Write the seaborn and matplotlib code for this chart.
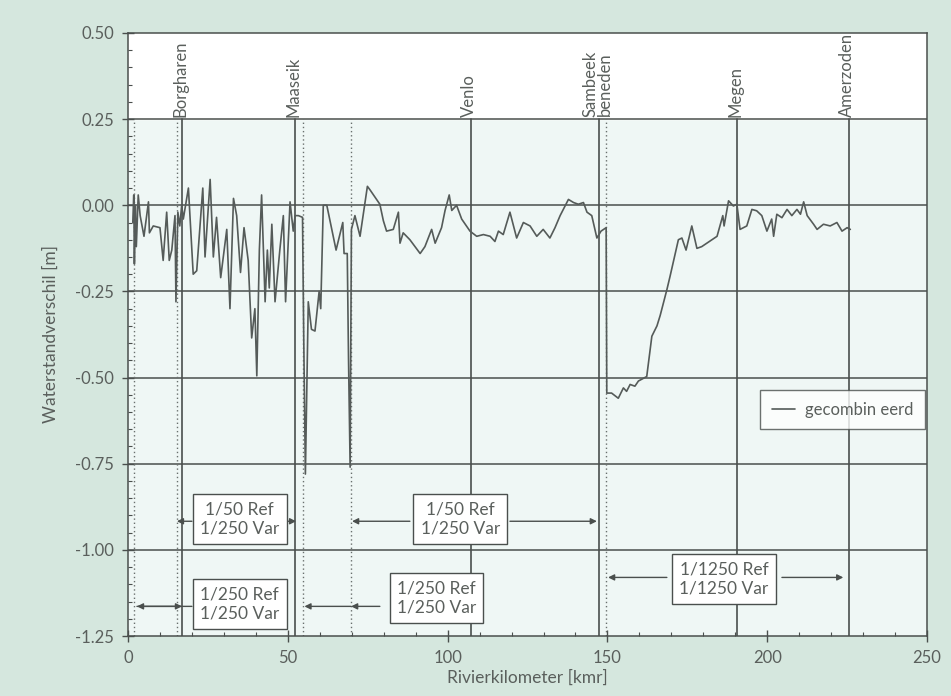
import numpy as np
import pandas as pd
import matplotlib
matplotlib.use("Agg")
import matplotlib.pyplot as plt
import seaborn as sns

# ---- data ----
km = [1.5, 1.8, 2.0, 2.3, 2.6, 3.2, 3.8, 5.0, 6.4, 6.7, 7.9, 10.0, 11.0, 12.1, 12.9, 13.7, 14.7, 15.0,
      15.6, 16.2, 16.8, 17.3, 18.9, 20.4, 21.5, 23.4, 24.1, 25.7, 26.7, 27.7, 29.0, 30.9, 31.9, 33.0,
      34.0, 35.2, 36.3, 37.6, 38.7, 39.7, 40.3, 41.1, 41.8, 42.9, 43.6, 44.2, 45.0, 46.0, 47.5, 48.6,
      49.3, 50.7, 51.7, 52.3, 53.3, 54.6, 55.0, 55.5, 56.0, 56.4, 57.4, 58.5, 59.8, 60.3, 61.1, 62.2,
      65.1, 67.2, 67.6, 68.6, 69.0, 69.5, 69.9, 71.0, 72.6, 74.9, 75.7, 78.8, 79.9, 80.9, 83.0, 84.6,
      85.1, 86.1, 88.2, 91.4, 92.9, 95.0, 96.1, 98.1, 99.2, 100.5, 101.3, 102.8, 104.4, 107.0, 109.1,
      111.2, 113.3, 114.8, 115.9, 117.4, 119.5, 121.6, 123.7, 125.8, 127.9, 129.9, 132.0, 133.6, 135.2,
      137.8, 139.4, 140.9, 142.5, 143.6, 145.1, 146.7, 148.0, 149.6, 149.8, 151.3, 153.4, 155.0, 156.0,
      157.1, 158.6, 159.7, 162.3, 163.9, 165.5, 166.5, 168.6, 169.6, 171.2, 172.2, 173.3, 174.6, 176.4,
      178.0, 179.5, 181.1, 184.3, 186.1, 186.5, 187.9, 189.4, 190.5, 191.5, 193.6, 195.2, 196.7, 198.3,
      199.9, 201.4, 202.0, 203.0, 204.6, 206.2, 207.7, 209.3, 210.4, 211.4, 212.5, 214.5, 215.6, 217.6,
      219.7, 221.8, 223.4, 225.0, 226.0]
verschil = [-0.05, 0.03, -0.17, 0.0, -0.12, 0.03, -0.03, -0.09, 0.01, -0.08, -0.06, -0.065, -0.16, -0.02,
            -0.16, -0.13, -0.03, -0.28, -0.02, -0.06, 0.0, -0.04, 0.05, -0.20, -0.19, 0.05, -0.15, 0.075,
            -0.15, -0.035, -0.21, -0.07, -0.30, 0.02, -0.03, -0.195, -0.065, -0.16, -0.385, -0.30, -0.495,
            -0.13, 0.03, -0.28, -0.13, -0.24, -0.055, -0.28, -0.13, -0.03, -0.28, 0.01, -0.075, -0.03,
            -0.03, -0.035, -0.40, -0.78, -0.50, -0.28, -0.36, -0.365, -0.25, -0.30, 0.0, 0.0,
            -0.13, -0.05, -0.14, -0.14, -0.45, -0.76, -0.07, -0.03, -0.09, 0.055, 0.045, 0.003, -0.045,
            -0.075, -0.07, -0.02, -0.11, -0.08, -0.10, -0.14, -0.12, -0.07, -0.11, -0.065, -0.015, 0.03,
            -0.015, 0.0, -0.04, -0.075, -0.09, -0.085, -0.09, -0.105, -0.075, -0.085, -0.02, -0.095, -0.05,
            -0.06, -0.09, -0.07, -0.095, -0.065, -0.03, 0.017, 0.008, 0.003, 0.008, -0.02, -0.03, -0.095,
            -0.075, -0.065, -0.545, -0.545, -0.56, -0.53, -0.54, -0.52, -0.525, -0.51, -0.497, -0.38,
            -0.35, -0.32, -0.245, -0.206, -0.14, -0.10, -0.095, -0.13, -0.06, -0.125, -0.12, -0.11, -0.09,
            -0.03, -0.06, 0.013, -0.002, 0.003, -0.07, -0.06, -0.012, -0.016, -0.03, -0.075, -0.04, -0.09,
            -0.026, -0.036, -0.012, -0.03, -0.012, -0.026, 0.01, -0.03, -0.055, -0.07, -0.055, -0.06,
            -0.05, -0.075, -0.065, -0.07]

stations = ["Borgharen", "Maaseik", "Venlo", "Sambeek\nbeneden", "Megen", "Amerzoden"]
station_km = [16.9, 52.3, 107.3, 147.4, 190.5, 225.6]
boundary_km = [2.0, 15.3, 54.8, 69.8, 149.6]

box_texts = ["1/50 Ref\n1/250 Var", "1/50 Ref\n1/250 Var", "1/250 Ref\n1/250 Var",
             "1/250 Ref\n1/250 Var", "1/1250 Ref\n1/1250 Var"]
box_x = [35.0, 104.0, 35.0, 96.5, 186.5]
box_y = [-0.91, -0.91, -1.158, -1.14, -1.085]

legend_label = "gecombin eerd"

# ---- styling ----
sns.set_theme(style="white")
FONT = ["Lato", "DejaVu Sans"]
plt.rcParams["font.family"] = FONT
TXT = "#5a5f5c"
LINE = "#4a4f4d"
FS = 12

fig = plt.figure(figsize=(9.51, 6.96), dpi=100, facecolor="#d5e7de")
ax = fig.add_axes([0.1346, 0.0862, 0.8402, 0.8664])
ax.set_facecolor("#eff7f5")

df = pd.DataFrame({"Rivierkilometer [kmr]": km, "Waterstandverschil [m]": verschil})
sns.lineplot(data=df, x="Rivierkilometer [kmr]", y="Waterstandverschil [m]", ax=ax,
             color="#555b59", linewidth=1.2, label=legend_label, zorder=5)

ax.set_xlim(0, 250)
ax.set_ylim(-1.25, 0.5)
ax.axhspan(0.25, 0.5, color="white", zorder=0)

# horizontal grid lines
for yv in [0.25, 0.0, -0.25, -0.5, -0.75, -1.0]:
    ax.axhline(yv, color=LINE, lw=1.1, zorder=2)

# station lines and labels
for name, xv in zip(stations, station_km):
    ax.plot([xv, xv], [-1.25, 0.25], color=LINE, lw=1.2, zorder=2)
    ax.text(xv - 0.5, 0.256, name, rotation=90, ha="center", va="bottom",
            fontsize=FS, color=TXT, linespacing=0.9)

for xv in boundary_km:
    ax.plot([xv, xv], [-1.25, 0.25], color="#6a706e", lw=1.0, ls=(0, (1, 2)), zorder=2)

# annotation arrows
akw = dict(arrowstyle="-|>", color=LINE, lw=1.0, mutation_scale=9, shrinkA=0, shrinkB=0)
arrows = [((20.0, -0.917), (15.3, -0.917)), ((49.7, -0.917), (52.6, -0.917)),
          ((88.2, -0.917), (70.1, -0.917)), ((119.5, -0.917), (146.7, -0.917)),
          ((20.0, -1.164), (2.8, -1.164)), ((2.8, -1.164), (16.9, -1.164)),
          ((78.8, -1.164), (69.8, -1.164)), ((69.8, -1.164), (55.2, -1.164)),
          ((168.6, -1.08), (150.2, -1.08)), ((204.6, -1.08), (223.8, -1.08))]
for start, end in arrows:
    ax.annotate("", xy=end, xytext=start, arrowprops=akw, zorder=6)

for t, xv, yv in zip(box_texts, box_x, box_y):
    ax.text(xv, yv, t, ha="center", va="center", fontsize=12.5, color=TXT, zorder=7,
            linespacing=1.25,
            bbox=dict(boxstyle="square,pad=0.42", fc="white", ec=LINE, lw=1.0))

# ticks
ax.set_xticks([0, 50, 100, 150, 200, 250])
ax.set_yticks([0.5, 0.25, 0.0, -0.25, -0.5, -0.75, -1.0, -1.25])
ax.set_yticklabels(["0.50", "0.25", "0.00", "-0.25", "-0.50", "-0.75", "-1.00", "-1.25"])
ax.set_xticks(np.arange(0, 251, 10), minor=True)
ax.set_yticks(np.arange(-1.25, 0.501, 0.05), minor=True)
ax.tick_params(axis="both", which="major", direction="inout", length=8, width=1.0,
               color=LINE, labelcolor=TXT, labelsize=FS, left=True, bottom=True)
ax.tick_params(axis="both", which="minor", direction="in", length=3, width=0.8,
               color=LINE, left=True, bottom=True)
ax.tick_params(axis="x", pad=6)
ax.tick_params(axis="y", pad=6)

for s in ax.spines.values():
    s.set_color(LINE)
    s.set_linewidth(1.1)

ax.set_xlabel("Rivierkilometer [kmr]", fontsize=FS + 0.5, color=TXT, labelpad=3)
ax.set_ylabel("Waterstandverschil [m]", fontsize=FS + 0.5, color=TXT, labelpad=12)

leg = ax.legend(loc="upper left", bbox_to_anchor=(0.791, 0.408), frameon=True, fancybox=False,
                fontsize=12, handlelength=1.4, handletextpad=0.6, borderpad=0.7,
                borderaxespad=0.0, edgecolor=LINE)
leg.get_frame().set_linewidth(1.0)
for t in leg.get_texts():
    t.set_color(TXT)
leg.set_zorder(8)

fig.savefig("out.png", dpi=100, facecolor=fig.get_facecolor())
